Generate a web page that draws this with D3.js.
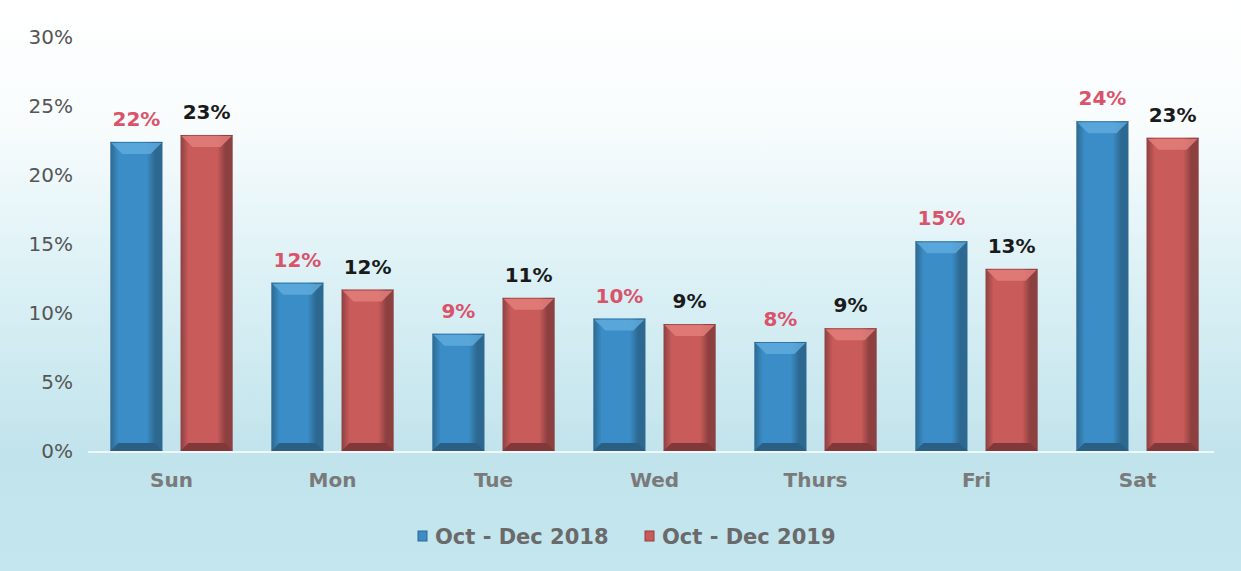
<!DOCTYPE html>
<html>
<head>
<meta charset="utf-8">
<script src="https://cdn.jsdelivr.net/npm/d3@7"></script>
<style>
  html, body { margin: 0; padding: 0; background: #fff; }
  svg { display: block; font-family: "DejaVu Sans", Verdana, sans-serif; }
</style>
</head>
<body>
<div id="chart"></div>
<script>
// data
const days = ["Sun", "Mon", "Tue", "Wed", "Thurs", "Fri", "Sat"];
const seriesNames = ["Oct - Dec 2018", "Oct - Dec 2019"];
const values2018 = [22.4, 12.2, 8.5, 9.6, 7.9, 15.2, 23.9];
const values2019 = [22.9, 11.7, 11.1, 9.2, 8.9, 13.2, 22.7];
const labels2018 = ["22%", "12%", "9%", "10%", "8%", "15%", "24%"];
const labels2019 = ["23%", "12%", "11%", "9%", "9%", "13%", "23%"];
const yTicks = [0, 5, 10, 15, 20, 25, 30];

const width = 1241, height = 571;
const colors = {
  "Oct - Dec 2018": { id: "b", base: "#3a8dc6", light: "#5eaadd", dark: "#2d6890", bottom: "#2a5f83", label: "#d9536b" },
  "Oct - Dec 2019": { id: "r", base: "#c95c5b", light: "#e27e7a", dark: "#8c4040", bottom: "#803838", label: "#1a1a1a" }
};

const rows = days.map((d, i) => ({
  day: d,
  bars: [
    { key: seriesNames[0], value: values2018[i], label: labels2018[i] },
    { key: seriesNames[1], value: values2019[i], label: labels2019[i] }
  ]
}));

const svg = d3.select("#chart").append("svg")
  .attr("width", width).attr("height", height);

// background fade: white at top to pale blue at bottom
const defs = svg.append("defs");
const bg = defs.append("linearGradient").attr("id", "bg")
  .attr("x1", 0).attr("y1", 0).attr("x2", 0).attr("y2", 1);
bg.append("stop").attr("offset", "0%").attr("stop-color", "#ffffff");
bg.append("stop").attr("offset", "22%").attr("stop-color", "#f8fcfd");
bg.append("stop").attr("offset", "50%").attr("stop-color", "#daf0f5");
bg.append("stop").attr("offset", "80%").attr("stop-color", "#c1e3ec");
bg.append("stop").attr("offset", "100%").attr("stop-color", "#c4e6ee");
svg.append("rect").attr("width", width).attr("height", height).attr("fill", "url(#bg)");

// soft horizontal shading for bar faces
Object.values(colors).forEach(c => {
  const g = defs.append("linearGradient").attr("id", "face-" + c.id)
    .attr("x1", 0).attr("y1", 0).attr("x2", 1).attr("y2", 0);
  g.append("stop").attr("offset", "0%").attr("stop-color", c.dark);
  g.append("stop").attr("offset", "16%").attr("stop-color", c.base);
  g.append("stop").attr("offset", "70%").attr("stop-color", c.base);
  g.append("stop").attr("offset", "86%").attr("stop-color", c.dark);
  g.append("stop").attr("offset", "100%").attr("stop-color", c.dark);
});

const x0 = d3.scaleBand().domain(days).range([91, 1218]).paddingInner(0.24).paddingOuter(0.12);
const x1 = d3.scaleBand().domain(seriesNames).range([0, x0.bandwidth()]).paddingInner(0.257);
const y = d3.scaleLinear().domain([0, 30]).range([451, 37]);

// y axis labels
const yAxis = svg.append("g")
  .attr("transform", "translate(73,0)")
  .call(d3.axisLeft(y).tickValues(yTicks).tickFormat(d => d + "%").tickSize(0).tickPadding(0));
yAxis.select(".domain").remove();
yAxis.selectAll("text")
  .attr("font-size", 20)
  .attr("font-family", "DejaVu Sans, Verdana, sans-serif")
  .attr("fill", "#555");

// baseline
svg.append("line")
  .attr("x1", 88).attr("x2", 1214)
  .attr("y1", y(0) + 1).attr("y2", y(0) + 1)
  .attr("stroke", "#eef7fa").attr("stroke-width", 2);

// x axis labels
const xAxis = svg.append("g")
  .attr("transform", `translate(0,${y(0)})`)
  .call(d3.axisBottom(x0).tickSize(0).tickPadding(22));
xAxis.select(".domain").remove();
xAxis.selectAll("text")
  .attr("font-size", 20)
  .attr("font-weight", "bold")
  .attr("font-family", "DejaVu Sans, Verdana, sans-serif")
  .attr("fill", "#7a7a7a");

// bevelled bars
const groups = svg.selectAll("g.day")
  .data(rows)
  .join("g")
  .attr("class", "day")
  .attr("transform", d => `translate(${x0(d.day)},0)`);

const bars = groups.selectAll("g.bar")
  .data(d => d.bars)
  .join("g")
  .attr("class", "bar");

const bv = 8; // bevel size
const poly = pts => pts.map(p => p.join(",")).join(" ");

bars.append("rect")
  .attr("x", d => x1(d.key))
  .attr("y", d => y(d.value))
  .attr("width", x1.bandwidth())
  .attr("height", d => y(0) - y(d.value))
  .attr("fill", d => `url(#face-${colors[d.key].id})`);

// bottom (darkest)
bars.append("polygon")
  .attr("fill", d => colors[d.key].bottom)
  .attr("points", d => {
    const l = x1(d.key), r = l + x1.bandwidth(), b = y(0);
    return poly([[l, b], [l + bv, b - bv], [r - bv, b - bv], [r, b]]);
  });

// top (light)
bars.append("polygon")
  .attr("fill", d => colors[d.key].light)
  .attr("opacity", 0.85)
  .attr("points", d => {
    const l = x1(d.key), r = l + x1.bandwidth(), t = y(d.value);
    return poly([[l + 1, t + 1], [r - 1, t + 1], [r - bv - 4, t + bv + 4], [l + bv + 4, t + bv + 4]]);
  });

// top edge line
bars.append("line")
  .attr("x1", d => x1(d.key)).attr("x2", d => x1(d.key) + x1.bandwidth())
  .attr("y1", d => y(d.value) + 0.5).attr("y2", d => y(d.value) + 0.5)
  .attr("stroke", d => colors[d.key].dark).attr("stroke-width", 1).attr("opacity", 0.5);

// value labels
bars.append("text")
  .attr("x", d => x1(d.key) + x1.bandwidth() / 2)
  .attr("y", d => y(d.value) - 16)
  .attr("text-anchor", "middle")
  .attr("font-size", 20)
  .attr("font-weight", "bold")
  .attr("fill", d => colors[d.key].label)
  .text(d => d.label);

// legend
const legend = svg.append("g").attr("transform", "translate(0,536)");
const legendX = [418, 645];
const items = legend.selectAll("g")
  .data(seriesNames)
  .join("g")
  .attr("transform", (d, i) => `translate(${legendX[i]},0)`);
items.append("rect")
  .attr("x", 0).attr("y", -5).attr("width", 9).attr("height", 10)
  .attr("fill", d => colors[d].base)
  .attr("stroke", d => colors[d].dark).attr("stroke-width", 1);
items.append("text")
  .attr("x", 17).attr("y", 0).attr("dy", "0.36em")
  .attr("font-size", 21)
  .attr("font-weight", "bold")
  .attr("fill", "#6a6a6a")
  .text(d => d);
</script>
</body>
</html>
